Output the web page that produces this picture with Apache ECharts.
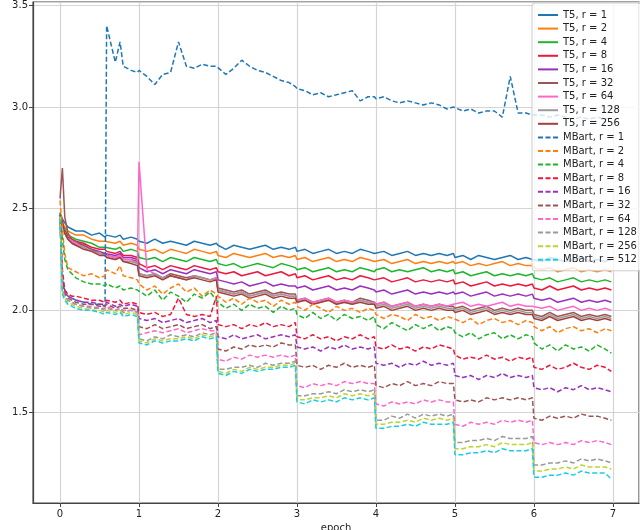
<!DOCTYPE html>
<html>
<head>
<meta charset="utf-8">
<script src="https://cdn.jsdelivr.net/npm/echarts@6/dist/echarts.min.js"></script>
<style>html,body{margin:0;padding:0;background:#fff;}#c{width:640px;height:530px;}</style>
</head>
<body>
<div id="c"></div>
<script>
// shared epoch positions
const epochs = [0,0.03,0.06,0.1,0.15,0.2,0.3,0.4,0.5,0.57,0.59,0.7,0.76,0.8,0.9,0.98,
 1,1.1,1.2,1.3,1.4,1.5,1.6,1.7,1.8,1.9,1.98,
 2,2.1,2.2,2.3,2.4,2.5,2.6,2.7,2.8,2.9,2.98,
 3,3.1,3.2,3.3,3.4,3.5,3.6,3.7,3.8,3.9,3.98,
 4,4.1,4.2,4.3,4.4,4.5,4.6,4.7,4.8,4.9,4.98,
 5,5.1,5.2,5.3,5.4,5.5,5.6,5.7,5.8,5.9,5.98,
 6,6.1,6.2,6.3,6.4,6.5,6.6,6.7,6.8,6.9,6.98];

const seriesNames = ['T5, r = 1','T5, r = 2','T5, r = 4','T5, r = 8','T5, r = 16','T5, r = 32','T5, r = 64','T5, r = 128','T5, r = 256',
 'MBart, r = 1','MBart, r = 2','MBart, r = 4','MBart, r = 8','MBart, r = 16','MBart, r = 32','MBart, r = 64','MBart, r = 128','MBart, r = 256','MBart, r = 512'];

const t5_r1 = [2.48,2.45,2.43,2.41,2.40,2.39,2.39,2.37,2.38,2.36,2.37,2.36,2.37,2.35,2.36,2.35,
 2.34,2.33,2.35,2.33,2.34,2.33,2.32,2.34,2.33,2.32,2.33,
 2.32,2.30,2.32,2.31,2.30,2.31,2.32,2.30,2.31,2.30,2.31,
 2.29,2.30,2.28,2.29,2.30,2.28,2.29,2.28,2.30,2.29,2.28,
 2.28,2.29,2.27,2.28,2.29,2.27,2.28,2.27,2.28,2.27,2.28,
 2.26,2.27,2.25,2.27,2.26,2.25,2.26,2.27,2.25,2.26,2.25,
 2.25,2.24,2.26,2.25,2.24,2.25,2.26,2.24,2.25,2.24,2.25];
const t5_r2 = [2.46,2.43,2.41,2.39,2.38,2.37,2.37,2.35,2.34,2.34,2.34,2.33,2.34,2.32,2.33,2.32,
 2.30,2.29,2.30,2.28,2.30,2.29,2.28,2.30,2.29,2.28,2.29,
 2.27,2.26,2.28,2.27,2.26,2.27,2.28,2.26,2.27,2.26,2.27,
 2.25,2.26,2.24,2.25,2.26,2.24,2.25,2.24,2.26,2.25,2.24,
 2.24,2.25,2.23,2.24,2.25,2.23,2.24,2.23,2.24,2.23,2.24,
 2.23,2.24,2.22,2.23,2.22,2.23,2.24,2.22,2.23,2.22,2.22,
 2.21,2.20,2.21,2.19,2.20,2.21,2.19,2.20,2.19,2.20,2.19];
const t5_r4 = [2.45,2.42,2.40,2.37,2.36,2.35,2.34,2.33,2.31,2.31,2.31,2.30,2.31,2.29,2.30,2.29,
 2.26,2.25,2.26,2.24,2.26,2.25,2.24,2.26,2.25,2.24,2.25,
 2.23,2.22,2.23,2.21,2.22,2.23,2.22,2.21,2.23,2.22,2.21,
 2.20,2.21,2.19,2.20,2.21,2.19,2.20,2.19,2.21,2.20,2.19,
 2.20,2.21,2.19,2.20,2.19,2.20,2.21,2.19,2.20,2.19,2.20,
 2.18,2.19,2.17,2.18,2.19,2.17,2.18,2.17,2.18,2.17,2.18,
 2.16,2.15,2.16,2.14,2.15,2.16,2.14,2.15,2.14,2.15,2.14];
const t5_r8 = [2.45,2.42,2.39,2.36,2.35,2.34,2.33,2.31,2.30,2.30,2.29,2.28,2.29,2.27,2.27,2.26,
 2.23,2.21,2.22,2.20,2.22,2.21,2.20,2.22,2.21,2.20,2.21,
 2.19,2.18,2.19,2.17,2.18,2.19,2.17,2.18,2.19,2.17,2.18,
 2.16,2.17,2.15,2.16,2.17,2.15,2.16,2.15,2.17,2.16,2.15,
 2.15,2.16,2.14,2.15,2.16,2.14,2.15,2.14,2.15,2.14,2.15,
 2.13,2.14,2.12,2.13,2.14,2.12,2.13,2.12,2.13,2.12,2.13,
 2.11,2.10,2.12,2.10,2.11,2.12,2.10,2.11,2.10,2.11,2.10];
const t5_r16 = [2.45,2.42,2.38,2.35,2.34,2.33,2.32,2.30,2.29,2.28,2.28,2.27,2.28,2.26,2.26,2.25,
 2.21,2.19,2.20,2.18,2.20,2.19,2.18,2.20,2.19,2.18,2.19,
 2.15,2.14,2.13,2.14,2.12,2.13,2.14,2.12,2.13,2.12,2.12,
 2.11,2.12,2.10,2.11,2.12,2.10,2.11,2.10,2.12,2.11,2.10,
 2.09,2.10,2.08,2.09,2.10,2.08,2.09,2.08,2.09,2.08,2.09,
 2.08,2.09,2.07,2.08,2.09,2.07,2.08,2.07,2.08,2.07,2.08,
 2.06,2.05,2.06,2.04,2.05,2.06,2.04,2.05,2.04,2.05,2.04];
const t5_r32 = [2.55,2.70,2.46,2.38,2.35,2.34,2.32,2.30,2.28,2.28,2.27,2.26,2.27,2.25,2.25,2.24,
 2.18,2.17,2.18,2.16,2.18,2.17,2.16,2.17,2.16,2.15,2.16,
 2.11,2.10,2.09,2.10,2.08,2.09,2.10,2.08,2.09,2.08,2.08,
 2.05,2.06,2.04,2.05,2.06,2.04,2.05,2.04,2.06,2.05,2.04,
 2.03,2.04,2.02,2.03,2.04,2.02,2.03,2.02,2.03,2.02,2.02,
 2.01,2.02,2.00,2.01,2.02,2.00,2.01,2.00,2.01,2.00,2.00,
 1.98,1.97,1.99,1.97,1.98,1.99,1.97,1.98,1.97,1.98,1.97];
const t5_r64 = [2.45,2.43,2.38,2.35,2.34,2.33,2.31,2.29,2.28,2.27,2.27,2.26,2.27,2.25,2.25,2.23,
 2.73,2.20,2.18,2.16,2.17,2.16,2.15,2.17,2.16,2.15,2.16,
 2.10,2.09,2.08,2.09,2.07,2.08,2.09,2.07,2.08,2.07,2.07,
 2.05,2.06,2.04,2.05,2.06,2.04,2.05,2.04,2.05,2.04,2.04,
 2.03,2.04,2.02,2.03,2.04,2.02,2.03,2.02,2.03,2.02,2.03,
 2.03,2.04,2.02,2.03,2.02,2.03,2.04,2.02,2.03,2.02,2.02,
 2.02,2.01,2.02,2.00,2.01,2.02,2.00,2.01,2.00,2.01,2.00];
const t5_r128 = [2.45,2.43,2.38,2.35,2.33,2.32,2.31,2.29,2.28,2.27,2.26,2.25,2.26,2.24,2.24,2.23,
 2.18,2.17,2.18,2.16,2.17,2.16,2.15,2.17,2.16,2.15,2.15,
 2.10,2.09,2.08,2.09,2.07,2.08,2.09,2.07,2.08,2.07,2.07,
 2.04,2.05,2.03,2.04,2.05,2.03,2.04,2.03,2.05,2.04,2.03,
 2.02,2.03,2.01,2.02,2.03,2.01,2.02,2.01,2.02,2.01,2.01,
 2.00,2.01,1.99,2.00,2.01,1.99,2.00,1.99,2.00,1.99,1.99,
 1.97,1.96,1.98,1.96,1.97,1.98,1.96,1.97,1.96,1.97,1.96];
const t5_r256 = [2.47,2.44,2.38,2.35,2.33,2.32,2.30,2.29,2.27,2.27,2.26,2.25,2.26,2.24,2.23,2.22,
 2.17,2.16,2.17,2.15,2.17,2.16,2.15,2.16,2.15,2.14,2.15,
 2.09,2.08,2.07,2.08,2.06,2.07,2.08,2.06,2.07,2.06,2.06,
 2.04,2.05,2.03,2.04,2.05,2.03,2.04,2.03,2.04,2.03,2.03,
 2.01,2.02,2.00,2.01,2.02,2.00,2.01,2.00,2.01,2.00,2.00,
 1.99,2.00,1.98,1.99,2.00,1.98,1.99,1.98,1.99,1.98,1.98,
 1.96,1.95,1.97,1.95,1.96,1.97,1.95,1.96,1.95,1.96,1.95];

const mb_r1 = [2.44,2.15,2.10,2.07,2.06,2.05,2.04,2.03,2.03,2.02,3.40,3.22,3.32,3.20,3.18,3.17,
 3.18,3.15,3.11,3.16,3.17,3.32,3.20,3.19,3.21,3.20,3.20,
 3.20,3.16,3.19,3.23,3.20,3.18,3.17,3.15,3.13,3.12,3.10,
 3.09,3.08,3.06,3.07,3.05,3.06,3.07,3.08,3.03,3.05,3.05,
 3.04,3.05,3.03,3.02,3.03,3.02,3.01,3.02,3.01,2.99,3.00,
 3.00,2.98,2.99,2.97,2.98,2.98,2.95,3.15,2.97,2.97,2.96,
 2.96,2.96,2.95,2.96,2.95,2.94,2.95,2.94,2.95,2.94,2.95];
const mb_r2 = [2.54,2.40,2.28,2.21,2.20,2.19,2.17,2.18,2.16,2.17,2.20,2.18,2.22,2.17,2.16,2.15,
 2.13,2.10,2.12,2.08,2.11,2.13,2.09,2.11,2.07,2.10,2.08,
 2.07,2.04,2.06,2.03,2.06,2.04,2.05,2.02,2.05,2.03,2.04,
 2.02,2.00,2.03,2.01,1.99,2.02,2.00,2.01,1.99,2.01,2.00,
 1.98,1.96,1.98,1.97,1.95,1.98,1.96,1.97,1.95,1.97,1.96,
 1.96,1.94,1.96,1.93,1.95,1.96,1.94,1.95,1.93,1.95,1.94,
 1.92,1.90,1.92,1.89,1.91,1.92,1.90,1.91,1.89,1.91,1.90];
const mb_r4 = [2.48,2.35,2.25,2.20,2.18,2.16,2.14,2.13,2.13,2.12,2.13,2.11,2.12,2.10,2.11,2.10,
 2.10,2.07,2.10,2.05,2.09,2.07,2.04,2.08,2.06,2.09,2.05,
 2.04,2.01,2.03,2.00,2.03,2.01,2.02,1.99,2.02,2.00,2.01,
 1.98,1.96,1.99,1.96,1.98,1.95,1.98,1.96,1.97,1.95,1.97,
 1.93,1.91,1.94,1.92,1.90,1.93,1.91,1.93,1.90,1.92,1.91,
 1.89,1.87,1.89,1.86,1.88,1.89,1.86,1.88,1.86,1.88,1.87,
 1.84,1.81,1.83,1.80,1.83,1.81,1.82,1.80,1.83,1.81,1.79];
const mb_r8 = [2.47,2.20,2.10,2.08,2.07,2.07,2.06,2.05,2.05,2.04,2.05,2.04,2.05,2.03,2.04,2.03,
 1.99,1.98,1.99,1.97,1.98,2.06,1.98,1.97,1.98,1.97,2.07,
 1.93,1.92,1.93,1.91,1.93,1.92,1.94,1.92,1.93,1.92,1.94,
 1.87,1.86,1.88,1.86,1.87,1.85,1.87,1.86,1.88,1.86,1.87,
 1.82,1.81,1.83,1.81,1.82,1.80,1.82,1.81,1.83,1.82,1.81,
 1.78,1.76,1.77,1.76,1.78,1.76,1.77,1.75,1.77,1.76,1.77,
 1.72,1.71,1.73,1.71,1.72,1.74,1.72,1.71,1.73,1.72,1.70];
const mb_r16 = [2.46,2.15,2.09,2.07,2.06,2.05,2.04,2.04,2.03,2.03,2.04,2.02,2.03,2.02,2.03,2.02,
 1.96,1.95,1.96,1.94,1.95,1.96,1.94,1.95,1.96,1.94,1.95,
 1.87,1.86,1.88,1.86,1.87,1.88,1.86,1.87,1.88,1.87,1.88,
 1.82,1.81,1.82,1.80,1.82,1.81,1.83,1.81,1.82,1.81,1.82,
 1.74,1.73,1.74,1.72,1.74,1.73,1.75,1.73,1.74,1.73,1.74,
 1.68,1.67,1.68,1.66,1.68,1.67,1.69,1.67,1.68,1.67,1.68,
 1.62,1.61,1.62,1.60,1.62,1.61,1.63,1.61,1.62,1.61,1.60];
const mb_r32 = [2.46,2.12,2.08,2.06,2.05,2.04,2.03,2.03,2.02,2.02,2.03,2.01,2.02,2.01,2.01,2.00,
 1.92,1.91,1.93,1.91,1.92,1.93,1.91,1.92,1.93,1.91,1.92,
 1.81,1.80,1.82,1.81,1.83,1.82,1.83,1.82,1.84,1.83,1.83,
 1.73,1.72,1.73,1.71,1.73,1.72,1.74,1.72,1.73,1.72,1.73,
 1.63,1.62,1.64,1.63,1.65,1.63,1.64,1.63,1.65,1.64,1.64,
 1.56,1.55,1.56,1.55,1.57,1.56,1.57,1.56,1.57,1.56,1.57,
 1.47,1.46,1.48,1.47,1.48,1.47,1.49,1.48,1.48,1.47,1.46];
const mb_r64 = [2.46,2.10,2.07,2.05,2.04,2.03,2.02,2.02,2.01,2.01,2.02,2.00,2.01,2.00,2.00,1.99,
 1.88,1.89,1.90,1.89,1.90,1.91,1.89,1.90,1.91,1.90,1.90,
 1.76,1.75,1.77,1.76,1.78,1.77,1.78,1.77,1.78,1.77,1.78,
 1.63,1.62,1.64,1.63,1.64,1.63,1.65,1.64,1.65,1.64,1.64,
 1.54,1.53,1.55,1.54,1.55,1.54,1.56,1.55,1.56,1.55,1.55,
 1.44,1.43,1.45,1.44,1.45,1.44,1.46,1.45,1.46,1.45,1.46,
 1.35,1.34,1.35,1.34,1.35,1.34,1.36,1.35,1.36,1.35,1.34];
const mb_r128 = [2.46,2.10,2.07,2.05,2.04,2.03,2.02,2.01,2.01,2.00,2.01,2.00,2.01,1.99,2.00,1.99,
 1.86,1.85,1.87,1.86,1.88,1.87,1.88,1.87,1.89,1.88,1.89,
 1.71,1.71,1.72,1.72,1.73,1.72,1.74,1.73,1.74,1.74,1.75,
 1.58,1.58,1.59,1.59,1.60,1.59,1.61,1.60,1.61,1.60,1.61,
 1.46,1.46,1.48,1.47,1.49,1.47,1.49,1.48,1.49,1.48,1.49,
 1.35,1.35,1.36,1.36,1.37,1.36,1.38,1.37,1.37,1.37,1.38,
 1.24,1.24,1.25,1.25,1.26,1.25,1.27,1.26,1.27,1.26,1.25];
const mb_r256 = [2.46,2.09,2.06,2.04,2.03,2.02,2.01,2.00,2.00,1.99,2.00,1.99,2.00,1.98,1.99,1.98,
 1.85,1.84,1.86,1.85,1.86,1.86,1.87,1.86,1.88,1.87,1.88,
 1.70,1.69,1.71,1.70,1.72,1.71,1.72,1.72,1.73,1.73,1.74,
 1.56,1.56,1.57,1.57,1.58,1.57,1.59,1.58,1.59,1.58,1.59,
 1.44,1.44,1.45,1.45,1.46,1.45,1.47,1.46,1.47,1.46,1.47,
 1.32,1.32,1.33,1.33,1.34,1.33,1.35,1.34,1.34,1.34,1.35,
 1.21,1.21,1.22,1.22,1.23,1.22,1.24,1.23,1.23,1.23,1.22];
const mb_r512 = [2.45,2.08,2.05,2.03,2.02,2.01,2.00,2.00,1.99,1.98,1.99,1.98,1.99,1.97,1.98,1.97,
 1.84,1.83,1.85,1.84,1.85,1.85,1.86,1.85,1.87,1.86,1.87,
 1.69,1.68,1.70,1.69,1.71,1.70,1.71,1.71,1.72,1.72,1.73,
 1.55,1.54,1.56,1.55,1.56,1.55,1.57,1.56,1.57,1.56,1.57,
 1.42,1.42,1.43,1.43,1.44,1.43,1.45,1.44,1.44,1.44,1.45,
 1.29,1.29,1.30,1.30,1.31,1.30,1.32,1.31,1.31,1.31,1.32,
 1.18,1.18,1.19,1.19,1.20,1.19,1.21,1.20,1.20,1.20,1.17];

const values = [t5_r1,t5_r2,t5_r4,t5_r8,t5_r16,t5_r32,t5_r64,t5_r128,t5_r256,
 mb_r1,mb_r2,mb_r4,mb_r8,mb_r16,mb_r32,mb_r64,mb_r128,mb_r256,mb_r512];
const colors = ['#1f77b4','#ff7f0e','#1fb52c','#f0163c','#9b30c0','#9c5454','#ff66cc','#9a9a9a','#a4403a',
 '#1f77b4','#ff7f0e','#1fb52c','#f0163c','#9b30c0','#9c5454','#ff66cc','#9a9a9a','#bfd42a','#17cfe0'];

const chart = echarts.init(document.getElementById('c'), null, {renderer:'canvas'});
const series = seriesNames.map((name, k) => ({
  name: name,
  type: 'line',
  data: epochs.map((x, i) => [x, values[k][i]]),
  showSymbol: false,
  symbol: 'none',
  animation: false,
  lineStyle: {color: colors[k], width: 1.5, type: k < 9 ? 'solid' : [5, 2.5]},
  itemStyle: {color: colors[k]},
  emphasis: {disabled: true}
}));

chart.setOption({
  animation: false,
  textStyle: {fontFamily: 'DejaVu Sans'},
  grid: {left: 33, right: 1, top: 2, bottom: 27, containLabel: false, outerBoundsMode: 'none',
    show: true, borderColor: '#444', borderWidth: 1.2},
  xAxis: {
    type: 'value', min: -0.342, max: 7.33, minInterval: 1, maxInterval: 1,
    name: 'epoch', nameLocation: 'middle', nameGap: 18,
    nameTextStyle: {fontSize: 10, color: '#222', fontFamily: 'DejaVu Sans'},
    axisLine: {show: true, onZero: false, lineStyle: {color: '#444', width: 1.2}},
    axisTick: {show: true, length: 4, lineStyle: {color: '#444'}},
    axisLabel: {fontSize: 10, color: '#222', margin: 6, showMinLabel: false, showMaxLabel: false, fontFamily: 'DejaVu Sans'},
    splitLine: {show: true, lineStyle: {color: '#d4d4d4', width: 1.2}}
  },
  yAxis: {
    type: 'value', min: 1.053, max: 3.516, minInterval: 0.5, maxInterval: 0.5,
    name: 'loss', nameLocation: 'middle', nameGap: 20, nameRotate: 90,
    nameTextStyle: {fontSize: 10, color: '#222', fontFamily: 'DejaVu Sans'},
    axisLine: {show: true, onZero: false, lineStyle: {color: '#444', width: 1.2}},
    axisTick: {show: true, length: 4, lineStyle: {color: '#444'}},
    axisLabel: {fontSize: 10, color: '#222', margin: 5, showMinLabel: false, showMaxLabel: false,
      formatter: v => v.toFixed(1), fontFamily: 'DejaVu Sans'},
    splitLine: {show: true, lineStyle: {color: '#d4d4d4', width: 1.2}}
  },
  legend: {
    orient: 'vertical', left: 532, top: 3,
    padding: [6, 4, 5, 5],
    itemWidth: 20, itemHeight: 10, itemGap: 1.6,
    itemStyle: {opacity: 0},
    backgroundColor: 'rgba(255,255,255,0.8)',
    borderColor: '#cccccc', borderWidth: 1, borderRadius: 3,
    textStyle: {fontSize: 10, color: '#222', lineHeight: 12, fontFamily: 'DejaVu Sans'},
    data: seriesNames
  },
  series: series
});
</script>
</body>
</html>
